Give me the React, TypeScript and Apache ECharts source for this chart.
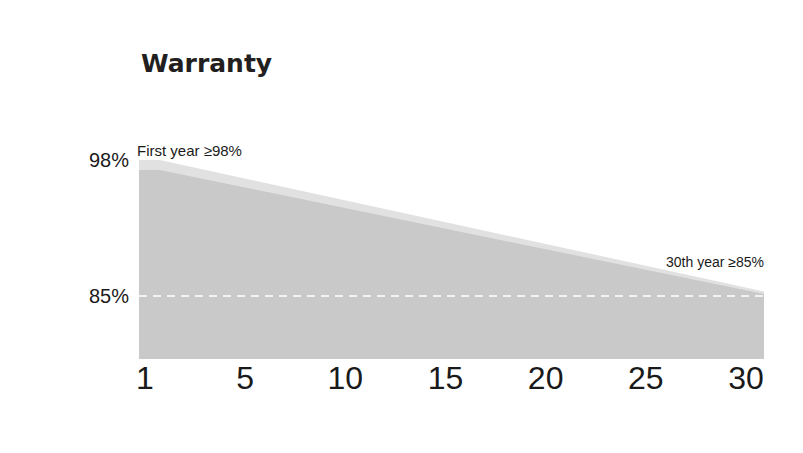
import React, { useEffect, useRef } from "react";
import * as echarts from "echarts";

const years = [0, 1, 30];
const lightValues = [98, 98, 85.45];
const darkValues = [97.05, 97.05, 85.2];
const tickLabels = ["1", "5", "10", "15", "20", "25", "30"];
const yLabelValues = [98, 85];
const thresholdValue = 85;
const annotations = ["First year ≥98%", "30th year ≥85%"];

export default function App() {
  const ref = useRef<HTMLDivElement>(null);
  useEffect(() => {
    if (!ref.current) return;
    const chart = echarts.init(ref.current, null, { renderer: "svg" });
    const font = "'Liberation Sans', Arial, sans-serif";
    chart.setOption({
      animation: false,
      backgroundColor: "#ffffff",
      title: {
        text: "Warranty",
        left: 136,
        top: 46,
        textStyle: {
          fontFamily: "'DejaVu Sans', sans-serif",
          fontWeight: "bold",
          fontSize: 25,
          color: "#231f20",
        },
      },
      grid: [
        { left: 139, right: 39, top: 160, bottom: 94 },
        { left: 145, right: 57, top: 160, bottom: 94 },
      ],
      xAxis: [
        {
          type: "value",
          gridIndex: 0,
          min: 0,
          max: 30,
          show: false,
        },
        {
          type: "category",
          gridIndex: 1,
          data: tickLabels,
          boundaryGap: false,
          axisLine: { show: false },
          axisTick: { show: false },
          splitLine: { show: false },
          axisLabel: {
            interval: 0,
            margin: 3,
            fontFamily: font,
            fontSize: 32,
            color: "#1a1a1a",
          },
        },
      ],
      yAxis: [
        {
          type: "value",
          gridIndex: 0,
          min: 79,
          max: 98,
          interval: 1,
          axisLine: { show: false },
          axisTick: { show: false },
          splitLine: { show: false },
          axisLabel: {
            margin: 10,
            fontFamily: font,
            fontSize: 20,
            color: "#1a1a1a",
            formatter: (v: number) => (yLabelValues.includes(v) ? v + "%" : ""),
          },
        },
        {
          type: "value",
          gridIndex: 1,
          show: false,
        },
      ],
      series: [
        {
          type: "line",
          xAxisIndex: 0,
          yAxisIndex: 0,
          data: years.map((y, i) => [y, lightValues[i]]),
          showSymbol: false,
          symbol: "none",
          lineStyle: { width: 0 },
          areaStyle: { color: "#e1e1e1", opacity: 1, origin: "start" },
          silent: true,
        },
        {
          type: "line",
          xAxisIndex: 0,
          yAxisIndex: 0,
          data: years.map((y, i) => [y, darkValues[i]]),
          showSymbol: false,
          symbol: "none",
          lineStyle: { width: 0 },
          areaStyle: { color: "#c9c9c9", opacity: 1, origin: "start" },
          silent: true,
          markLine: {
            silent: true,
            symbol: "none",
            label: { show: false },
            lineStyle: { color: "#ffffff", type: [8, 6], width: 1.5 },
            data: [{ yAxis: thresholdValue }],
          },
        },
      ],
      graphic: [
        {
          type: "text",
          left: 137,
          top: 143,
          style: {
            text: annotations[0],
            fontFamily: font,
            fontSize: 15,
            fill: "#1a1a1a",
          },
        },
        {
          type: "text",
          right: 39,
          top: 255,
          style: {
            text: annotations[1],
            fontFamily: font,
            fontSize: 14,
            fill: "#1a1a1a",
          },
        },
      ],
    });
    return () => chart.dispose();
  }, []);
  return <div ref={ref} style={{ width: 803, height: 453, margin: -8 }} />;
}
